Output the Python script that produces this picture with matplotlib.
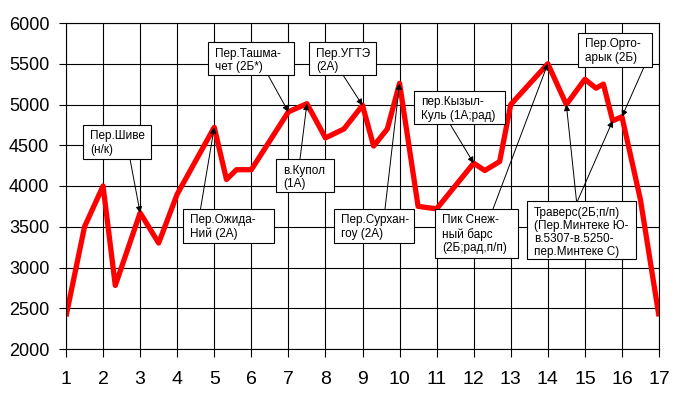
import matplotlib
matplotlib.use('Agg')
import matplotlib.pyplot as plt
from matplotlib.patches import Rectangle

plt.rcParams['font.family'] = ['Liberation Sans', 'DejaVu Sans']

# ---- data ----
days = [1, 1.5, 2, 2.33, 3, 3.5, 4, 5, 5.33, 5.6, 6, 7, 7.5, 8, 8.5, 9, 9.3, 9.67,
        10, 10.5, 11, 12, 12.3, 12.7, 13, 14, 14.5, 15, 15.3, 15.5, 15.75, 16, 16.5, 17]
heights = [2400, 3500, 4000, 2780, 3670, 3300, 3900, 4720, 4080, 4200, 4200, 4910, 5010,
           4590, 4700, 4990, 4490, 4700, 5260, 3750, 3720, 4280, 4190, 4300, 5000, 5500,
           5000, 5310, 5200, 5250, 4800, 4850, 3830, 2400]
x_ticks = list(range(1, 18))
y_ticks = list(range(2000, 6001, 500))

label_texts = [
    "Пер.Шиве\n(н/к)",
    "Пер.Ожида-\nНий (2А)",
    "Пер.Ташма-\nчет (2Б*)",
    "в.Купол\n(1А)",
    "Пер.УГТЭ\n(2А)",
    "Пер.Сурхан-\nгоу (2А)",
    "пер.Кызыл-\nКуль (1А;рад)",
    "Пик Снеж-\nный барс\n(2Б;рад,п/п)",
    "Траверс(2Б;п/п)\n(Пер.Минтеке Ю-\nв.5307-в.5250-\nпер.Минтеке С)",
    "Пер.Орто-\nарык (2Б)",
]
# index of the route point each label points to
label_targets = [[4], [7], [11], [12], [15], [18], [21], [25], [26, 30], [31]]

# ---- layout (pixels, from top-left) ----
W, H = 676, 396
boxes = [
    (83, 125, 151, 159),
    (183, 209, 274, 243),
    (208, 42, 294, 75),
    (276, 159, 334, 192),
    (309, 42, 376, 75),
    (334, 209, 414, 243),
    (414, 91, 505, 124),
    (435, 209, 518, 258),
    (527, 201, 636, 259),
    (578, 33, 652, 67),
]
arrow_starts = [
    [(130, 159)],
    [(200.5, 209)],
    [(268, 75)],
    [(300, 159)],
    [(343, 75)],
    [(385, 209)],
    [(450, 124)],
    [(493, 209)],
    [(576.5, 201), (577.5, 201)],
    [(644, 67)],
]

fig = plt.figure(figsize=(W / 100, H / 100), dpi=100)
ax = fig.add_axes([66 / W, 1 - 349 / H, (659 - 66) / W, (349 - 23) / H])

ax.plot(days, heights, color='#ff0000', lw=3.8, solid_joinstyle='round',
        solid_capstyle='butt', zorder=2)

ax.set_xlim(1, 17)
ax.set_ylim(2000, 6000)
ax.set_xticks(x_ticks)
ax.set_yticks(y_ticks)
ax.grid(True, color='black', lw=0.8)
ax.set_axisbelow(True)
for s in ax.spines.values():
    s.set_color('black')
    s.set_linewidth(0.8)
ax.tick_params(axis='y', length=5, width=0.8, pad=7, labelsize=13)
ax.tick_params(axis='x', length=6, width=0.8, pad=10, labelsize=14)

for text, targets, box, starts in zip(label_texts, label_targets, boxes, arrow_starts):
    x0, y0, x1, y1 = box
    fig.add_artist(Rectangle((x0 / W, 1 - y1 / H), (x1 - x0) / W, (y1 - y0) / H,
                             transform=fig.transFigure, facecolor='white',
                             edgecolor='black', lw=0.8, zorder=5))
    fig.text((x0 + 7) / W, 1 - (y0 + 5.5) / H, text, ha='left', va='top',
             fontsize=8.5, zorder=6, linespacing=1.13)
    for ti, (sx, sy) in zip(targets, starts):
        ax.annotate('', xy=(days[ti], heights[ti]), xycoords='data',
                    xytext=(sx, H - sy), textcoords='figure pixels',
                    arrowprops=dict(arrowstyle='-|>', color='black', lw=0.7,
                                    mutation_scale=9, shrinkA=0, shrinkB=0),
                    annotation_clip=False, zorder=4)

fig.savefig('out.png', dpi=100, facecolor='white')
